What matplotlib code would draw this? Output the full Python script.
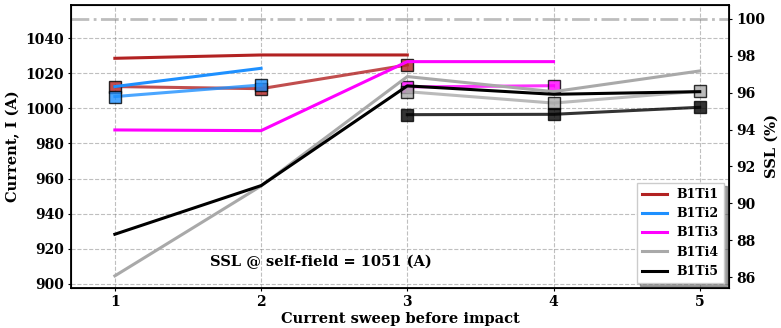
import numpy as np
import matplotlib
matplotlib.use("Agg")
import matplotlib.pyplot as plt

plt.rcParams['font.family'] = ['DejaVu Serif']
plt.rcParams['font.weight'] = 'bold'

# --- Datos ---
sweeps = [1, 2, 3, 4, 5]
ssl_self_field = 1051  # A

labels = ['B1Ti1', 'B1Ti2', 'B1Ti3', 'B1Ti4', 'B1Ti5']
colors = ['firebrick', 'dodgerblue', 'magenta', 'darkgray', 'black']

# corriente de quench (lineas)
b1ti1_ic = [1028.5, 1030.4, 1030.4, np.nan, np.nan]
b1ti2_ic = [1012.4, 1022.8, np.nan, np.nan, np.nan]
b1ti3_ic = [987.7, 987.3, 1026.6, 1026.6, np.nan]
b1ti4_ic = [904.6, 955.8, 1018.1, 1009.5, 1021.3]
b1ti5_ic = [928.3, 956.0, 1012.8, 1008.0, 1009.5]

# corriente tras el impacto (marcadores)
b1ti1_imp = [1012.4, 1011.2, 1024.7, np.nan, np.nan]
b1ti2_imp = [1006.7, 1013.3, np.nan, np.nan, np.nan]
b1ti3_imp = [np.nan, np.nan, 1012.2, 1012.9, np.nan]
b1ti4_imp = [np.nan, np.nan, 1009.5, 1003.0, 1009.8]
b1ti5_imp = [np.nan, np.nan, 996.4, 996.6, 1000.6]

lines_ic = [b1ti1_ic, b1ti2_ic, b1ti3_ic, b1ti4_ic, b1ti5_ic]
lines_imp = [b1ti1_imp, b1ti2_imp, b1ti3_imp, b1ti4_imp, b1ti5_imp]

ylim_a = (897.7, 1058.9)

fig = plt.figure(figsize=(7.81, 3.28), dpi=100)
ax = fig.add_axes([0.0909, 0.122, 0.8425, 0.863])

ax.axhline(ssl_self_field, color='#bdbdbd', linestyle='-.', linewidth=2, zorder=1)

for lab, col, yi, ym in zip(labels, colors, lines_ic, lines_imp):
    ax.plot(sweeps, yi, color=col, linewidth=2.2, label=lab, zorder=3)
    ax.plot(sweeps, ym, color=col, linewidth=2.2, marker='s', markersize=8,
            markeredgecolor='black', markeredgewidth=1, alpha=0.8, zorder=3)

ax.set_xlim(0.7, 5.2)
ax.set_ylim(*ylim_a)
ax.set_xticks(sweeps)
ax.set_yticks(np.arange(900, 1041, 20))
ax.tick_params(labelsize=10, length=2.5, pad=2.5)
for t in ax.get_xticklabels() + ax.get_yticklabels():
    t.set_fontweight('bold')
ax.grid(True, linestyle='--', color='gray', alpha=0.5, linewidth=0.8)
ax.set_xlabel('Current sweep before impact', fontsize=10.5, fontweight='bold', labelpad=2)
ax.set_ylabel('Current, I (A)', fontsize=10.5, fontweight='bold', labelpad=4)

ax.text(0.38, 0.092, f'SSL @ self-field = {ssl_self_field} (A)', transform=ax.transAxes,
        ha='center', va='center', fontsize=10.5, fontweight='bold')

leg = ax.legend(loc='lower right', fontsize=9, shadow=True, fancybox=False,
                framealpha=1, borderaxespad=0.4, handlelength=2)
for t in leg.get_texts():
    t.set_fontweight('bold')

# eje derecho en % del SSL
ax2 = ax.twinx()
ax2.set_ylim(ylim_a[0] / ssl_self_field * 100, ylim_a[1] / ssl_self_field * 100)
ax2.set_yticks(np.arange(86, 101, 2))
ax2.tick_params(labelsize=10, length=2.5, pad=2.5)
for t in ax2.get_yticklabels():
    t.set_fontweight('bold')
ax2.set_ylabel('SSL (%)', fontsize=10.5, fontweight='bold', labelpad=0)

for s in ax.spines.values():
    s.set_linewidth(1.3)

plt.savefig('out.png', dpi=100)
plt.close()
